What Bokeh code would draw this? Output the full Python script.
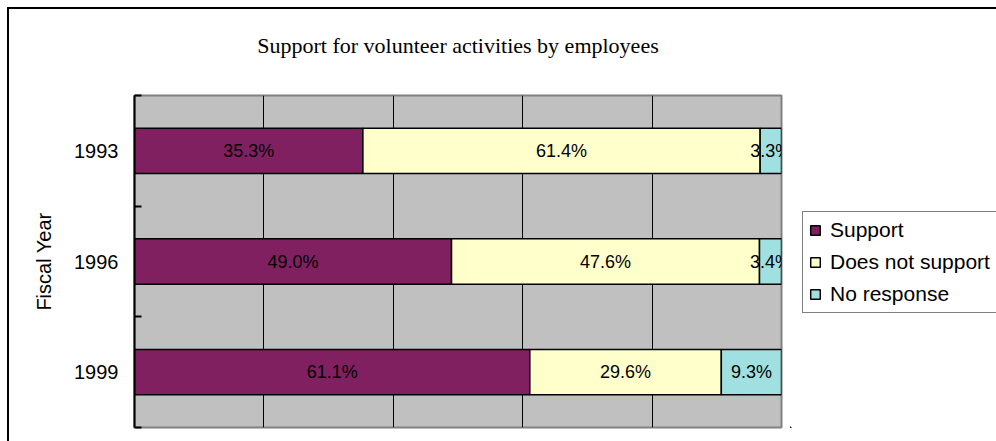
from bokeh.plotting import figure
from bokeh.layouts import row
from bokeh.models import (ColumnDataSource, Range1d, FixedTicker, LabelSet,
                          Title, Legend, LegendItem, InlineStyleSheet)
from bokeh.core.properties import value
from bokeh.embed import file_html
from bokeh.resources import INLINE

# ---- data ----
years = ["1993", "1996", "1999"]
support = [35.3, 49.0, 61.1]
not_support = [61.4, 47.6, 29.6]
no_response = [3.3, 3.4, 9.3]
series_names = ["Support", "Does not support", "No response"]
colors = ["#802060", "#FFFFCC", "#A0E0E0"]
title_text = "Support for volunteer activities by employees"
y_label = "Fiscal Year"
grid_ticks = [20, 40, 60, 80]

n = len(years)
ypos = [n - i - 0.5 for i in range(n)]  # first category on top

src = ColumnDataSource(dict(y=ypos, s=support, d=not_support, r=no_response))

p = figure(width=790, height=441, output_backend="svg", toolbar_location=None,
           x_range=Range1d(0, 100), y_range=Range1d(0, n),
           min_border_left=134, min_border_right=9,
           min_border_top=95, min_border_bottom=14)
p.background_fill_color = "#C0C0C0"
p.border_fill_color = "white"
p.outline_line_color = "#808080"
p.outline_line_width = 2

# title: a blank second line lifts the text away from the plot area
p.title = Title(text=title_text + "\n ", align="center",
                text_font="Liberation Serif", text_font_size="22px",
                text_font_style="normal", text_color="black", standoff=26)

renderers = p.hbar_stack(["s", "d", "r"], y="y", height=0.41, source=src,
                         color=colors, line_color="black", line_width=1.5)

p.xaxis.visible = False
p.xgrid.ticker = FixedTicker(ticks=grid_ticks)
p.xgrid.grid_line_color = "black"
p.xgrid.grid_line_width = 1
p.ygrid.grid_line_color = None

# y axis: labels at centers, ticks at category boundaries
yax = p.yaxis[0]
yax.ticker = FixedTicker(ticks=ypos, minor_ticks=[float(i) for i in range(n + 1)])
yax.major_label_overrides = {yv: yr for yv, yr in zip(ypos, years)}
yax.major_tick_in = 0
yax.major_tick_out = 0
yax.minor_tick_in = 7
yax.minor_tick_out = 0
yax.minor_tick_line_color = "black"
yax.minor_tick_line_width = 2
yax.axis_line_color = "black"
yax.axis_line_width = 2
yax.major_label_text_font = "Liberation Sans"
yax.major_label_text_font_size = "20px"
yax.major_label_text_color = "black"
yax.major_label_standoff = 16
yax.axis_label = y_label
yax.axis_label_text_font = "Liberation Sans"
yax.axis_label_text_font_size = "20px"
yax.axis_label_text_font_style = "normal"
yax.axis_label_text_color = "black"
yax.axis_label_standoff = 16

# data labels
lx, ly, lt = [], [], []
for i in range(n):
    start = 0.0
    for vals in (support, not_support, no_response):
        v = vals[i]
        lx.append(start + v / 2.0)
        ly.append(ypos[i])
        lt.append(f"{v:.1f}%")
        start += v
lsrc = ColumnDataSource(dict(x=lx, y=ly, t=lt))
labels = LabelSet(x="x", y="y", text="t", source=lsrc, text_align="center",
                  text_baseline="middle", text_font=value("Liberation Sans"),
                  text_font_size=value("18px"), text_color="black")
p.add_layout(labels)

# ---- legend in a narrow companion figure to the right ----
# (same series drawn there, but with ranges that keep the bars out of view)
p2 = figure(width=206, height=441, output_backend="svg", toolbar_location=None,
            x_axis_type=None, y_axis_type=None,
            x_range=Range1d(1000, 1001), y_range=Range1d(n + 10, n + 11),
            min_border_left=0, min_border_right=0,
            min_border_top=0, min_border_bottom=0)
p2.title = None
p2.outline_line_color = None
p2.background_fill_color = "white"
p2.border_fill_color = "white"
p2.xgrid.grid_line_color = None
p2.ygrid.grid_line_color = None
key_renderers = p2.hbar_stack(["s", "d", "r"], y="y", height=0.41, source=src,
                              color=colors, line_color="black", line_width=1.5)

lg = Legend(items=[LegendItem(label=nm, renderers=[r])
                   for nm, r in zip(series_names, key_renderers)])
lg.location = (12, 114)
lg.border_line_color = "black"
lg.border_line_width = 1.5
lg.background_fill_color = "white"
lg.background_fill_alpha = 1
lg.label_text_font = "Liberation Sans"
lg.label_text_font_size = "21px"
lg.label_text_color = "black"
lg.glyph_width = 12
lg.glyph_height = 12
lg.label_height = 24
lg.spacing = 8
lg.padding = 6
lg.margin = 0
lg.label_standoff = 9
p2.add_layout(lg)

# outer chart border (cut by the window on right and bottom)
p.stylesheets = [InlineStyleSheet(css="""
:host { position: relative; overflow: hidden; }
:host::after { content: ''; position: absolute; left: 7px; top: 7px;
  width: 2000px; height: 800px; border: 2px solid black;
  pointer-events: none; box-sizing: border-box; }
""")]
p2.stylesheets = [InlineStyleSheet(css="""
:host { position: relative; overflow: hidden; }
:host::after { content: ''; position: absolute; left: -20px; top: 7px;
  width: 2000px; height: 800px; border: 2px solid black;
  pointer-events: none; box-sizing: border-box; }
""")]

layout = row(p, p2, spacing=0)
open("out.html", "w").write(file_html(layout, INLINE))
